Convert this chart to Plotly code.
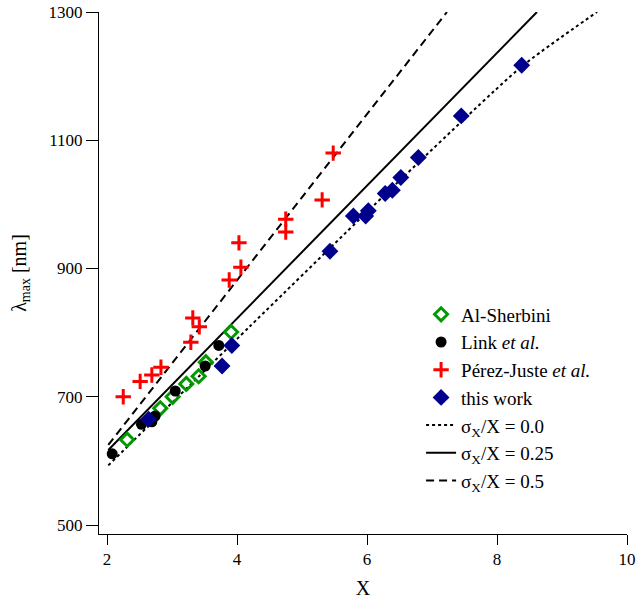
import plotly.graph_objects as go

# ---- data ----
sherbini_x = [2.31, 2.82, 3.01, 3.22, 3.41, 3.52, 3.91]
sherbini_y = [633, 682, 700, 720, 732, 754, 801]

link_x = [2.08, 2.53, 2.69, 2.74, 3.05, 3.51, 3.72]
link_y = [611, 657, 661, 670, 709, 748, 780]

perez_x = [2.25, 2.51, 2.69, 2.83, 3.29, 3.32, 3.42, 3.88, 4.03, 4.06, 4.75, 4.75, 5.31, 5.48]
perez_y = [700, 724, 734, 746, 785, 823, 809, 882, 940, 902, 977, 957, 1007, 1080]

work_x = [2.64, 3.77, 3.92, 5.43, 5.79, 5.98, 6.02, 6.28, 6.39, 6.52, 6.79, 7.45, 8.38]
work_y = [665, 748, 780, 927, 982, 982, 990, 1017, 1022, 1042, 1073, 1138, 1217]

# model curves
s00_x = [2.02, 4.2, 6.5, 8.38, 9.54]
s00_y = [593, 810, 1037, 1215, 1300]
s25_x = [2.02, 8.615]
s25_y = [617, 1300]
s50_x = [2.02, 7.23]
s50_y = [625, 1300]

x_ticks = [2, 4, 6, 8, 10]
y_ticks = [500, 700, 900, 1100, 1300]

FONT = "Liberation Serif"

fig = go.Figure()

# lines drawn first (under the markers)
fig.add_trace(go.Scatter(x=s00_x, y=s00_y, mode="lines",
                         line=dict(color="black", width=2, dash="dot", shape="spline", smoothing=0.6),
                         name="σ<sub>X</sub>/X = 0.0", legendrank=5))
fig.add_trace(go.Scatter(x=s25_x, y=s25_y, mode="lines", line=dict(color="black", width=2),
                         name="σ<sub>X</sub>/X = 0.25", legendrank=6))
fig.add_trace(go.Scatter(x=s50_x, y=s50_y, mode="lines", line=dict(color="black", width=2, dash="8px,5px"),
                         name="σ<sub>X</sub>/X = 0.5", legendrank=7))

fig.add_trace(go.Scatter(x=sherbini_x, y=sherbini_y, mode="markers", name="Al-Sherbini",
                         marker=dict(symbol="diamond-open", size=10, color="#009a00", line=dict(width=3, color="#009a00")),
                         legendrank=1))
fig.add_trace(go.Scatter(x=link_x, y=link_y, mode="markers", name="Link <i>et al.</i>",
                         marker=dict(symbol="circle", size=11, color="black"), legendrank=2))
fig.add_trace(go.Scatter(x=perez_x, y=perez_y, mode="markers", name="Pérez-Juste <i>et al.</i>",
                         marker=dict(symbol="cross-thin", size=11, color="#ff0000", line=dict(width=3, color="#ff0000")),
                         legendrank=3))
fig.add_trace(go.Scatter(x=work_x, y=work_y, mode="markers", name="this work",
                         marker=dict(symbol="diamond", size=13, color="#00008c"), legendrank=4))

fig.update_layout(
    width=637, height=605,
    margin=dict(l=99, r=10, t=12, b=71, autoexpand=False),
    paper_bgcolor="white", plot_bgcolor="white",
    font=dict(family=FONT, size=17, color="black"),
    showlegend=True,
    legend=dict(x=0.61, y=0.457, xanchor="left", yanchor="top", bgcolor="rgba(0,0,0,0)",
                font=dict(family=FONT, size=19), tracegroupgap=0),
)
fig.update_xaxes(range=[1.877, 10], tickvals=x_ticks, ticktext=[str(v) for v in x_ticks],
                 showgrid=False, zeroline=False, showline=True, linecolor="black", linewidth=1,
                 ticks="outside", ticklen=10, tickwidth=1, tickcolor="black", automargin=False,
                 tickfont=dict(family=FONT, size=17),
                 title=dict(text="X", font=dict(family=FONT, size=20), standoff=12))
fig.update_yaxes(range=[486, 1300], tickvals=y_ticks, ticktext=[str(v) for v in y_ticks],
                 showgrid=False, zeroline=False, showline=True, linecolor="black", linewidth=1,
                 ticks="outside", ticklen=12, tickwidth=1, tickcolor="black", automargin=False,
                 tickfont=dict(family=FONT, size=17),
                 title=dict(text="λ<sub>max</sub> [nm]", font=dict(family=FONT, size=20), standoff=16))

fig.write_html("out.html")
